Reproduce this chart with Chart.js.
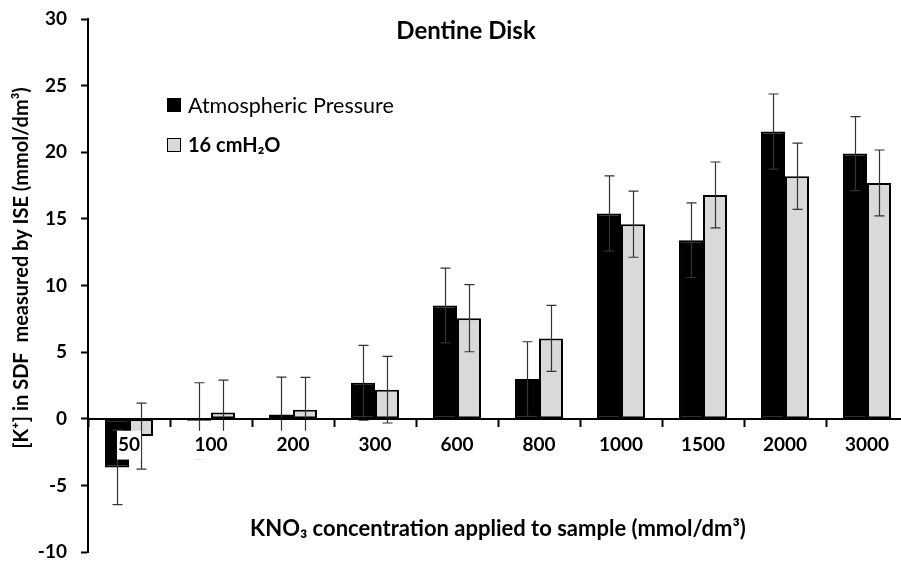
<!DOCTYPE html>
<html>
<head>
<meta charset="utf-8">
<script src="https://cdn.jsdelivr.net/npm/chart.js@4/dist/chart.umd.min.js"></script>
<style>
  html, body { margin: 0; padding: 0; background: #fff; overflow: hidden; }
  canvas { display: block; }
</style>
</head>
<body>
<canvas id="kChart" width="910" height="562"></canvas>
<script>
// values
const categories = ["50", "100", "200", "300", "600", "800", "1000", "1500", "2000", "3000"];
const atmospheric = [-3.65, -0.15, 0.32, 2.7, 8.5, 2.98, 15.4, 13.4, 21.55, 19.9];
const atmosphericErr = [2.8, 2.85, 2.8, 2.8, 2.8, 2.8, 2.82, 2.8, 2.82, 2.78];
const pressure16 = [-1.3, 0.47, 0.68, 2.18, 7.55, 6.03, 14.6, 16.8, 18.2, 17.7];
const pressure16Err = [2.48, 2.43, 2.42, 2.5, 2.52, 2.48, 2.48, 2.47, 2.48, 2.47];
const yTicks = [-10, -5, 0, 5, 10, 15, 20, 25, 30];

const FONT = "Lato, 'Open Sans', sans-serif";

// error bars from each dataset's "errors" array
const errorBars = {
  id: "errorBars",
  afterDatasetsDraw(chart) {
    const ctx = chart.ctx;
    const y = chart.scales.y;
    ctx.save();
    ctx.strokeStyle = "#333";
    ctx.lineWidth = 1.2;
    chart.data.datasets.forEach((ds, i) => {
      const meta = chart.getDatasetMeta(i);
      meta.data.forEach((bar, j) => {
        const v = ds.data[j], e = ds.errors[j];
        const top = y.getPixelForValue(v + e);
        const bot = y.getPixelForValue(v - e);
        const x = Math.round(bar.x) + 0.5;
        ctx.beginPath();
        ctx.moveTo(x, top); ctx.lineTo(x, bot);
        ctx.moveTo(x - 5, top); ctx.lineTo(x + 5, top);
        ctx.moveTo(x - 5, bot); ctx.lineTo(x + 5, bot);
        ctx.stroke();
      });
    });
    ctx.restore();
  }
};

// title, axis titles and legend
const labelsPlugin = {
  id: "labels",
  afterDraw(chart) {
    const ctx = chart.ctx;
    const area = chart.chartArea;
    ctx.save();
    ctx.fillStyle = "#000";
    ctx.textBaseline = "middle";

    ctx.textAlign = "center";
    ctx.font = "bold 24px " + FONT;
    ctx.fillText("Dentine Disk", 466, 31);

    ctx.font = "bold 22px " + FONT;
    ctx.fillText("KNO\u2083 concentration applied to sample (mmol/dm\u00B3)", (area.left + area.right) / 2, 529);

    ctx.save();
    ctx.translate(22, 268);
    ctx.rotate(-Math.PI / 2);
    ctx.font = "bold 20px " + FONT;
    ctx.fillText("[K\u207A] in SDF  measured by ISE (mmol/dm\u00B3)", 0, 0);
    ctx.restore();

    // legend
    const items = [
      { ds: chart.data.datasets[0], y: 105, weight: "normal", size: 21.5 },
      { ds: chart.data.datasets[1], y: 145, weight: "bold", size: 20 }
    ];
    ctx.textAlign = "left";
    items.forEach(it => {
      ctx.fillStyle = it.ds.backgroundColor;
      ctx.fillRect(167, it.y - 7, 14, 14);
      ctx.strokeStyle = "#000";
      ctx.lineWidth = 1;
      ctx.strokeRect(167.5, it.y - 6.5, 13, 13);
      ctx.fillStyle = "#000";
      ctx.font = it.weight + " " + it.size + "px " + FONT;
      ctx.fillText(it.ds.label, 188, it.y + 1);
    });
    ctx.restore();
  }
};

const ctx = document.getElementById("kChart").getContext("2d");
new Chart(ctx, {
  type: "bar",
  data: {
    labels: categories,
    datasets: [
      {
        label: "Atmospheric Pressure",
        data: atmospheric,
        errors: atmosphericErr,
        backgroundColor: "#000000",
        borderColor: "#000000",
        borderWidth: 2,
        borderSkipped: false
      },
      {
        label: "16 cmH\u2082O",
        data: pressure16,
        errors: pressure16Err,
        backgroundColor: "#d9d9d9",
        borderColor: "#000000",
        borderWidth: 2,
        borderSkipped: false
      }
    ]
  },
  options: {
    responsive: false,
    animation: false,
    devicePixelRatio: 1,
    layout: { padding: { left: 0, right: 2, top: 19, bottom: 10 } },
    datasets: { bar: { categoryPercentage: 0.585, barPercentage: 1 } },
    plugins: {
      legend: { display: false },
      title: { display: false },
      tooltip: { enabled: false }
    },
    scales: {
      x: {
        position: { y: 0 },
        offset: true,
        border: { color: "#000", width: 2, z: 2 },
        grid: {
          offset: true,
          drawOnChartArea: false,
          drawTicks: true,
          tickLength: 7,
          tickColor: "#000",
          tickWidth: 2,
          z: 2
        },
        ticks: {
          z: 1,
          color: "#000",
          font: { family: FONT, size: 19, weight: "bold" },
          padding: 8,
          maxRotation: 0,
          showLabelBackdrop: true,
          backdropColor: "#ffffff",
          backdropPadding: { x: 1, y: 3 }
        }
      },
      y: {
        min: -10,
        max: 30,
        afterFit(scale) {
          scale.width = 88;
          scale.paddingTop = 0;
          scale.paddingBottom = 0;
        },
        afterBuildTicks(scale) { scale.ticks = yTicks.map(v => ({ value: v })); },
        border: { color: "#000", width: 2 },
        grid: {
          drawOnChartArea: false,
          drawTicks: true,
          tickLength: 7,
          tickColor: "#000",
          tickWidth: 2
        },
        ticks: {
          color: "#000",
          font: { family: FONT, size: 19, weight: "bold" },
          padding: 14
        }
      }
    }
  },
  plugins: [errorBars, labelsPlugin]
});
</script>
</body>
</html>
